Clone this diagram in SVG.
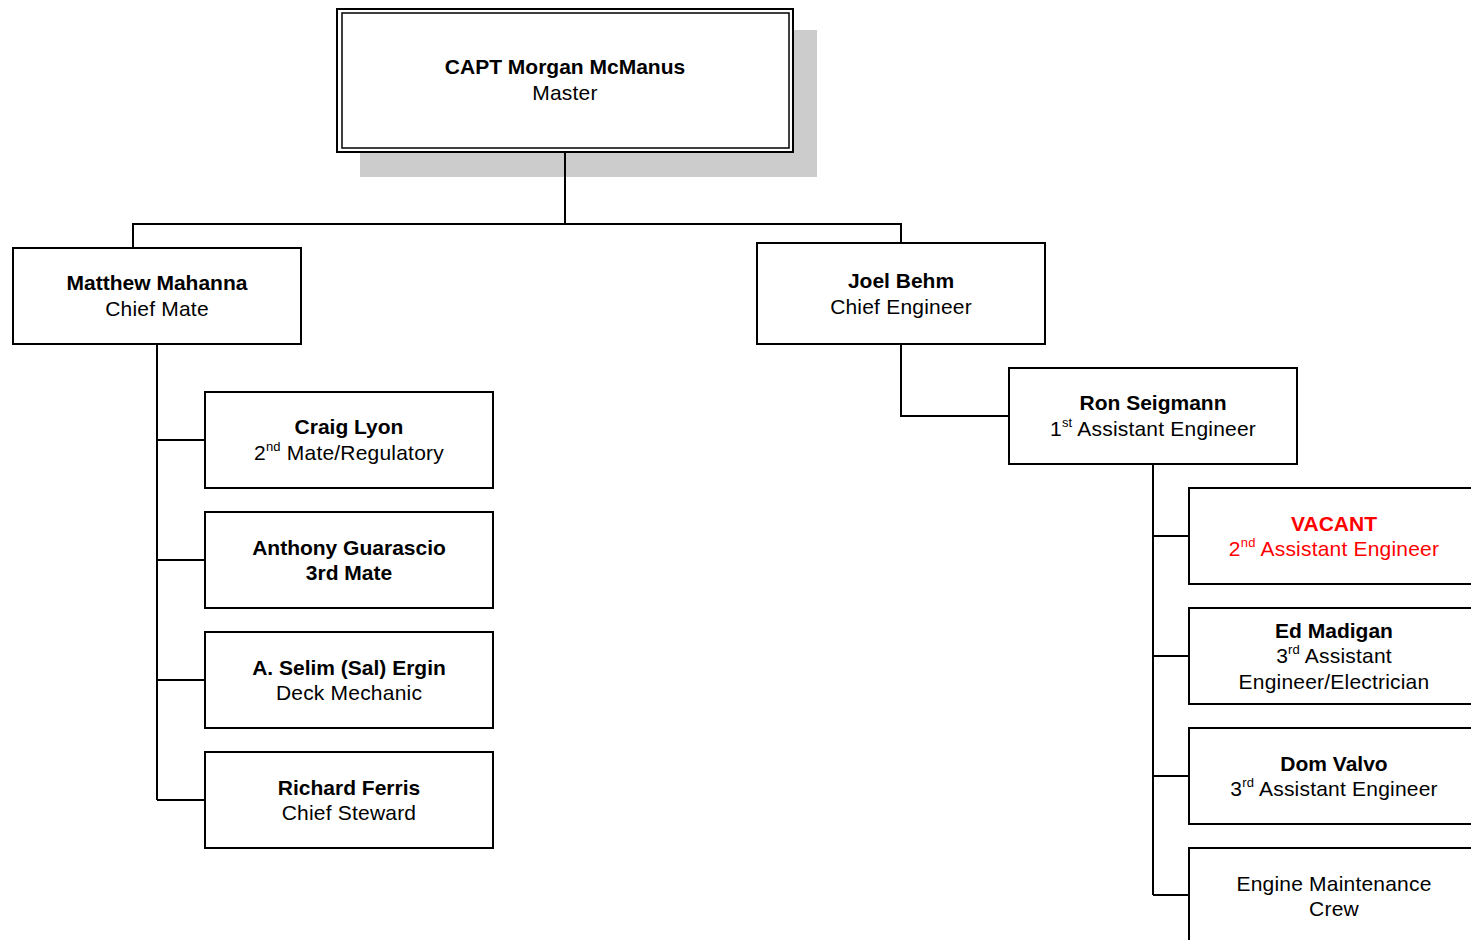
<svg xmlns="http://www.w3.org/2000/svg" width="1471" height="940" viewBox="0 0 1471 940">
<style>
  .box { fill: #ffffff; stroke: #000000; stroke-width: 2; }
  .conn { fill: none; stroke: #000000; stroke-width: 2; }
  text { font-family: "Liberation Sans", Arial, sans-serif; font-size: 21px; fill: #000000; text-anchor: middle; letter-spacing: 0.2px; }
  .b { font-weight: bold; letter-spacing: 0; }
  .red { fill: #ff0000; }
  .sup { font-size: 13px; }
</style>
<rect width="1471" height="940" fill="#ffffff"/>
<g id="master-shadow">
  <rect x="360" y="30" width="457" height="147" fill="#cccccc"/>
</g>
<g id="connectors">
  <path class="conn" d="M565 152 V224 M133 248 V224 H901 V243"/>
  <path class="conn" d="M157 344 V800 M157 440 H205 M157 560 H205 M157 680 H205 M157 800 H205"/>
  <path class="conn" d="M901 344 V416 H1009"/>
  <path class="conn" d="M1153 464 V895 M1153 536 H1189 M1153 656 H1189 M1153 776 H1189 M1153 895 H1189"/>
</g>
<g id="master">
  <rect x="337" y="9" width="456" height="143" fill="#ffffff" stroke="#000" stroke-width="2"/>
  <rect x="342" y="13" width="447" height="135" fill="none" stroke="#000" stroke-width="1.5"/>
  <text x="565" y="73.5" class="b">CAPT Morgan McManus</text>
  <text x="565" y="99.5">Master</text>
</g>
<g id="chief-mate">
  <rect class="box" x="13" y="248" width="288" height="96"/>
  <text x="157" y="289.5" class="b">Matthew Mahanna</text>
  <text x="157" y="315.5">Chief Mate</text>
</g>
<g id="chief-engineer">
  <rect class="box" x="757" y="243" width="288" height="101"/>
  <text x="901" y="287.5" class="b">Joel Behm</text>
  <text x="901" y="313.5">Chief Engineer</text>
</g>
<g id="first-assistant">
  <rect class="box" x="1009" y="368" width="288" height="96"/>
  <text x="1153" y="409.5" class="b">Ron Seigmann</text>
  <text x="1153" y="435.5">1<tspan class="sup" dy="-9">st</tspan><tspan dy="9"> Assistant Engineer</tspan></text>
</g>
<g id="second-mate">
  <rect class="box" x="205" y="392" width="288" height="96"/>
  <text x="349" y="433.5" class="b">Craig Lyon</text>
  <text x="349" y="459.5">2<tspan class="sup" dy="-9">nd</tspan><tspan dy="9"> Mate/Regulatory</tspan></text>
</g>
<g id="third-mate">
  <rect class="box" x="205" y="512" width="288" height="96"/>
  <text x="349" y="554.5" class="b">Anthony Guarascio</text>
  <text x="349" y="579.5" class="b">3rd Mate</text>
</g>
<g id="deck-mechanic">
  <rect class="box" x="205" y="632" width="288" height="96"/>
  <text x="349" y="674.5" class="b">A. Selim (Sal) Ergin</text>
  <text x="349" y="699.5">Deck Mechanic</text>
</g>
<g id="chief-steward">
  <rect class="box" x="205" y="752" width="288" height="96"/>
  <text x="349" y="794.5" class="b">Richard Ferris</text>
  <text x="349" y="819.5">Chief Steward</text>
</g>
<g id="second-assistant">
  <rect class="box" x="1189" y="488" width="290" height="96"/>
  <text x="1334" y="530.5" class="b red">VACANT</text>
  <text x="1334" y="555.5" class="red">2<tspan class="sup red" dy="-9">nd</tspan><tspan dy="9"> Assistant Engineer</tspan></text>
</g>
<g id="third-assistant-electrician">
  <rect class="box" x="1189" y="608" width="290" height="96"/>
  <text x="1334" y="637.5" class="b">Ed Madigan</text>
  <text x="1334" y="662.5">3<tspan class="sup" dy="-9">rd</tspan><tspan dy="9"> Assistant</tspan></text>
  <text x="1334" y="688.5">Engineer/Electrician</text>
</g>
<g id="third-assistant">
  <rect class="box" x="1189" y="728" width="290" height="96"/>
  <text x="1334" y="770.5" class="b">Dom Valvo</text>
  <text x="1334" y="795.5">3<tspan class="sup" dy="-9">rd</tspan><tspan dy="9"> Assistant Engineer</tspan></text>
</g>
<g id="engine-crew">
  <rect class="box" x="1189" y="848" width="290" height="96"/>
  <text x="1334" y="890.5">Engine Maintenance</text>
  <text x="1334" y="915.5">Crew</text>
</g>
</svg>
